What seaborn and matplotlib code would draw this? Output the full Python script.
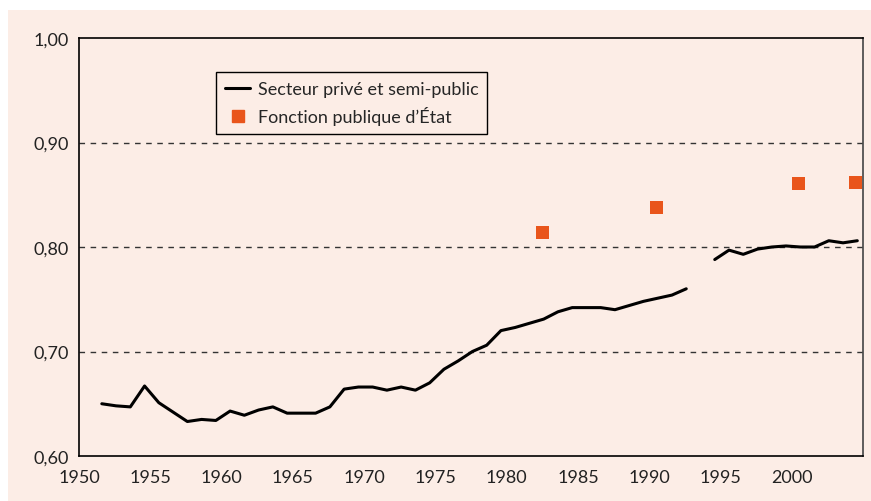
import seaborn as sns
import matplotlib.pyplot as plt
from matplotlib.patches import Rectangle
from matplotlib.lines import Line2D
import pandas as pd
import numpy as np

sns.set_style("white")
plt.rcParams['font.family'] = ['Lato', 'DejaVu Sans']

BG = "#FCEDE6"
ORANGE = "#E9551B"

# Secteur privé et semi-public (1993 missing)
years = list(range(1951, 2005))
prive = [0.650, 0.648, 0.647, 0.667, 0.651, 0.642, 0.633, 0.635, 0.634, 0.643,
         0.639, 0.644, 0.647, 0.641, 0.641, 0.641, 0.647, 0.664, 0.666, 0.666,
         0.663, 0.666, 0.663, 0.670, 0.683, 0.691, 0.700, 0.706, 0.720, 0.723,
         0.727, 0.731, 0.738, 0.742, 0.742, 0.742, 0.740, 0.744, 0.748, 0.751,
         0.754, 0.760, np.nan, 0.788, 0.797, 0.793, 0.798, 0.800, 0.801, 0.800,
         0.800, 0.806, 0.804, 0.806]

# Fonction publique d'État
fp_years = [1982, 1990, 2000, 2004]
fp_values = [0.814, 0.838, 0.861, 0.862]

xticks = list(range(1950, 2006, 5))
xtick_labels = [str(y) for y in xticks[:-1]] + [""]
yticks = [0.60, 0.70, 0.80, 0.90, 1.00]
ytick_labels = ["0,60", "0,70", "0,80", "0,90", "1,00"]

df = pd.DataFrame({"year": years, "value": prive})
# values sit in the middle of each year's slot
df["x"] = df["year"] + 0.6
df["segment"] = df["value"].isna().cumsum()
df = df.dropna()
fp = pd.DataFrame({"x": np.array(fp_years) + 0.5, "value": fp_values})

fig = plt.figure(figsize=(8.71, 5.02), dpi=100)
fig.patch.set_facecolor("white")
fig.patches.append(Rectangle((8 / 871, 0), 1, (502 - 11) / 502,
                             transform=fig.transFigure, facecolor=BG,
                             edgecolor="none", zorder=-10))
ax = fig.add_axes([79 / 871, (502 - 457) / 502, 784 / 871, 418 / 502])
ax.set_facecolor(BG)

for y in [0.70, 0.80, 0.90]:
    ax.axhline(y, color="#333333", lw=1.0, ls=(0, (4, 4)), zorder=1)

sns.lineplot(data=df, x="x", y="value", units="segment", estimator=None,
             color="black", lw=2.2, ax=ax, zorder=3)
sns.scatterplot(data=fp, x="x", y="value", marker="s", s=85, color=ORANGE,
                edgecolor="none", ax=ax, zorder=4, clip_on=False)

ax.set_xlim(1950, 2005)
ax.set_ylim(0.60, 1.00)
ax.set_xticks(xticks)
ax.set_xticklabels(xtick_labels)
ax.set_yticks(yticks)
ax.set_yticklabels(ytick_labels)
ax.set_xlabel("")
ax.set_ylabel("")
ax.tick_params(axis="both", labelsize=13, colors="#222222", length=6, width=1.2,
               direction="out")
ax.tick_params(axis="y", direction="inout", length=8)
for s in ax.spines.values():
    s.set_visible(True)
    s.set_color("black")
    s.set_linewidth(1.2)
ax.spines["right"].set_color("#444444")

handles = [Line2D([0], [0], color="black", lw=2.2),
           Line2D([0], [0], marker="s", color=ORANGE, ls="none", markersize=9)]
leg = ax.legend(handles, ["Secteur privé et semi-public", "Fonction publique d’État"],
                loc="upper left", bbox_to_anchor=(137 / 784, (457 - 73) / 418),
                borderaxespad=0, fancybox=False, frameon=True, fontsize=13,
                handlelength=1.4, handletextpad=0.4, borderpad=0.5,
                labelspacing=0.5)
leg.get_frame().set_edgecolor("black")
leg.get_frame().set_facecolor(BG)
leg.get_frame().set_linewidth(1.0)
leg.get_frame().set_alpha(1)

fig.savefig("out.png", dpi=100)
